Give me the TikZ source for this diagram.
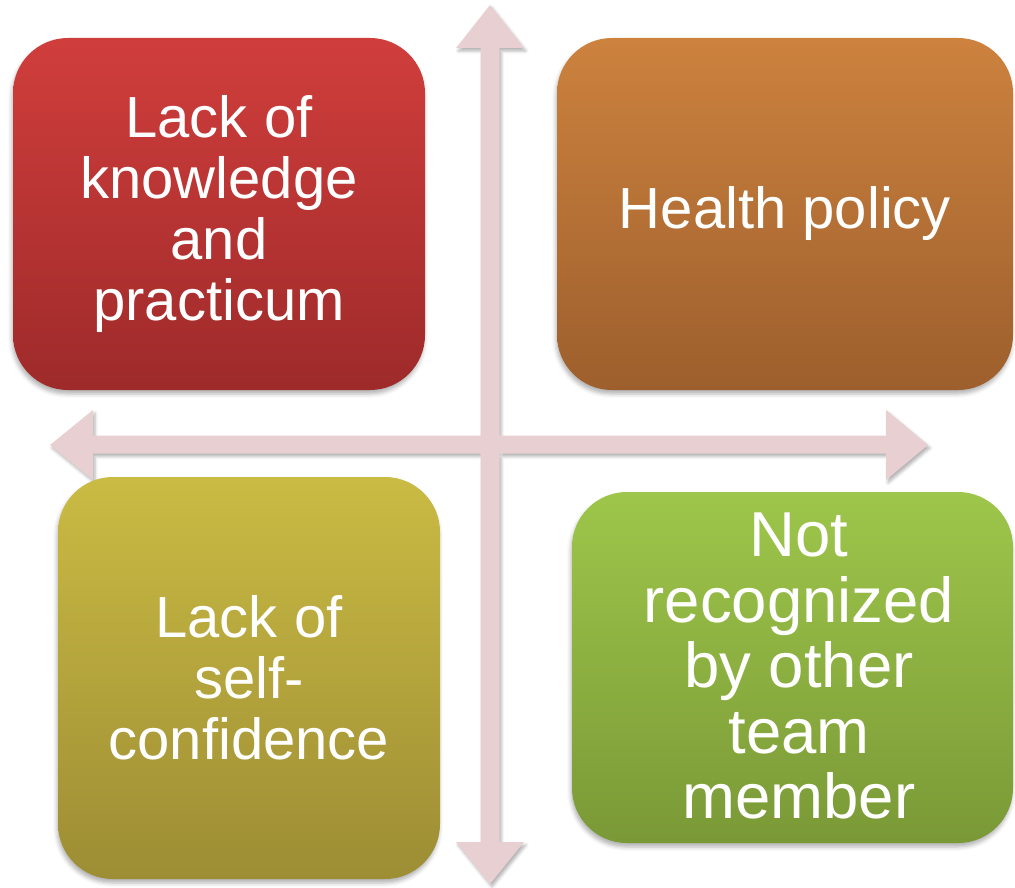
\documentclass[tikz,border=0pt]{standalone}
\usepackage{fontspec}
\setmainfont{Liberation Sans}
\usetikzlibrary{shadows.blur}

\definecolor{arrowpink}{RGB}{232,208,210}
\definecolor{redtop}{RGB}{208,62,60}
\definecolor{redbot}{RGB}{158,42,42}
\definecolor{orgtop}{RGB}{205,130,62}
\definecolor{orgbot}{RGB}{157,95,45}
\definecolor{yeltop}{RGB}{202,187,68}
\definecolor{yelbot}{RGB}{157,141,52}
\definecolor{grntop}{RGB}{158,198,74}
\definecolor{grnbot}{RGB}{122,153,55}

\tikzset{
  axisarrow/.style={fill=arrowpink, draw=none, nonzero rule,
    blur shadow={shadow xshift=2pt, shadow yshift=-3pt, shadow blur radius=3pt, shadow opacity=30}},
  quadbox/.style={draw=none, rounded corners=55pt, inner sep=0pt,
    text=white, align=center,
    font=\fontsize{58}{61}\selectfont,
    blur shadow={shadow xshift=-1pt, shadow yshift=-4pt, shadow blur radius=4pt, shadow opacity=30}},
}

\begin{document}
\begin{tikzpicture}[x=1pt,y=-1pt]
\useasboundingbox (0,0) rectangle (1015,888);

% both double arrows filled as one shape, so the crossing stays clean
\path[axisarrow]
  (490,5) -- (524,48) -- (499.5,48) -- (499.5,842) -- (524,842)
  -- (490,884) -- (456,842) -- (480.5,842) -- (480.5,48) -- (456,48) -- cycle
  (50,445) -- (93,410) -- (93,435.5) -- (886,435.5) -- (886,410)
  -- (928,445) -- (886,480) -- (886,453.5) -- (93,453.5) -- (93,480) -- cycle;

% quadrant boxes
\node[quadbox, top color=redtop, bottom color=redbot,
      minimum width=412pt, minimum height=352pt] (knowledge) at (219,214)
  {Lack of\\knowledge\\and\\practicum};

\node[quadbox, top color=orgtop, bottom color=orgbot,
      minimum width=456pt, minimum height=352pt] (policy) at (785,214)
  {Health policy};

\node[quadbox, top color=yeltop, bottom color=yelbot,
      minimum width=382pt, minimum height=402pt] (confidence) at (249,678)
  {Lack of\\self-\\confidence};

\node[quadbox, top color=grntop, bottom color=grnbot,
      minimum width=441pt, minimum height=351pt] (team) at (792.5,667.5) {};
\node[text=white, align=center, inner sep=0pt,
      font=\fontsize{63.5}{65.5}\selectfont] (teamtext) at (799,666)
  {Not\\recognized\\by other\\team\\member};

\end{tikzpicture}
\end{document}
